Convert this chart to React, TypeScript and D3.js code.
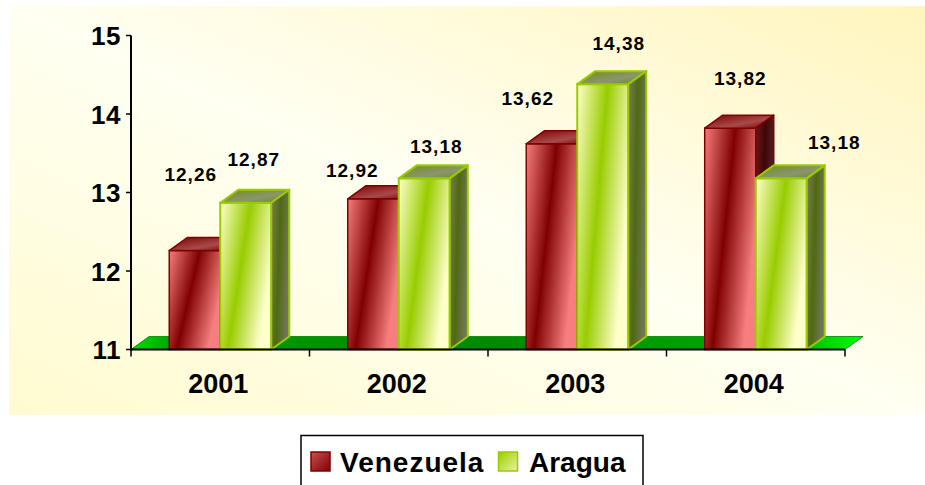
import React from "react";
import * as d3 from "d3";

const years = ["2001", "2002", "2003", "2004"];
const seriesNames = ["Venezuela", "Aragua"];
const venezuela = [12.26, 12.92, 13.62, 13.82];
const aragua = [12.87, 13.18, 14.38, 13.18];
const yTicks = [11, 12, 13, 14, 15];
// manual label nudges (px) like the original's moved data labels
const labelNudgeX = [[-13, -30, -33, 1], [-1, 3, 7, 44]];
const labelNudgeY = [[-49, -1, -18, -22], [-16, -4, -13, -8]];

const W = 925;
const H = 485;
const DX = 18;
const DY = -13;
const FONT = "Arial, 'Liberation Sans', sans-serif";

const fmt = (v: number) => v.toFixed(2).replace(".", ",");

export default function App() {
  const y = d3.scaleLinear().domain([11, 15]).range([349.5, 35.5]);
  const x = d3.scaleBand().domain(years).range([131, 845]).paddingInner(0).paddingOuter(0);
  const inner = d3
    .scaleBand()
    .domain(seriesNames)
    .range([0, x.bandwidth()])
    .paddingInner(0)
    .paddingOuter(0.75);
  const w = inner.bandwidth();
  const y0 = y(11);
  const values = [venezuela, aragua];
  const faces = [
    { front: "url(#vFront)", top: "url(#vTop)", side: "url(#vSide)", stroke: "#800000", sw: 1.5 },
    { front: "url(#aFront)", top: "url(#aTop)", side: "url(#aSide)", stroke: "#99CC00", sw: 2 },
  ];
  const [xl, xr] = x.range();

  const bars: React.ReactNode[] = [];
  const labels: React.ReactNode[] = [];
  years.forEach((yr, i) => {
    seriesNames.forEach((s, si) => {
      const v = values[si][i];
      const bx = (x(yr) as number) + (inner(s) as number);
      const yt = y(v);
      const f = faces[si];
      bars.push(
        <g key={yr + s}>
          <rect x={bx} y={yt} width={w} height={y0 - yt} fill={f.front} stroke={f.stroke} strokeWidth={f.sw} />
          <polygon
            points={`${bx},${yt} ${bx + DX},${yt + DY} ${bx + w + DX},${yt + DY} ${bx + w},${yt}`}
            fill={f.top}
            stroke={f.stroke}
            strokeWidth={f.sw}
            strokeLinejoin="round"
          />
          <polygon
            points={`${bx + w},${yt} ${bx + w + DX},${yt + DY} ${bx + w + DX},${y0 + DY} ${bx + w},${y0}`}
            fill={f.side}
            stroke={f.stroke}
            strokeWidth={f.sw}
            strokeLinejoin="round"
          />
        </g>
      );
      labels.push(
        <text
          key={"l" + yr + s}
          x={bx + w / 2 + DX / 2 + labelNudgeX[si][i]}
          y={yt + DY - 8 + labelNudgeY[si][i]}
          textAnchor="middle"
          fontFamily={FONT}
          fontWeight="bold"
          fontSize={19}
          letterSpacing={1}
          fill="#000"
        >
          {fmt(v)}
        </text>
      );
    });
  });

  return (
    <svg width={W} height={H} style={{ position: "absolute", left: 0, top: 0, display: "block" }}>
      <defs>
        <linearGradient id="bg" x1="1" y1="0" x2="0" y2="1">
          <stop offset="0" stopColor="#FFF5BE" />
          <stop offset="0.5" stopColor="#FFFFF2" />
          <stop offset="1" stopColor="#FFFBD0" />
        </linearGradient>
        <linearGradient id="vFront" x1="0" y1="0" x2="1" y2="0.45">
          <stop offset="0" stopColor="#F67E7E" />
          <stop offset="0.5" stopColor="#800000" />
          <stop offset="1" stopColor="#F67E7E" />
        </linearGradient>
        <linearGradient id="aFront" x1="0" y1="0" x2="1" y2="0.45">
          <stop offset="0" stopColor="#FFFFCC" />
          <stop offset="0.5" stopColor="#99CC00" />
          <stop offset="1" stopColor="#FFFFCC" />
        </linearGradient>
        <linearGradient id="vTop" x1="0" y1="0" x2="1" y2="1">
          <stop offset="0" stopColor="#7A0000" />
          <stop offset="0.6" stopColor="#A84A4A" />
          <stop offset="1" stopColor="#700000" />
        </linearGradient>
        <linearGradient id="aTop" x1="0" y1="0" x2="1" y2="1">
          <stop offset="0" stopColor="#6F9012" />
          <stop offset="0.6" stopColor="#8C9470" />
          <stop offset="1" stopColor="#6B8A12" />
        </linearGradient>
        <linearGradient id="vSide" x1="0" y1="0" x2="1" y2="0.3">
          <stop offset="0" stopColor="#6B1A1A" />
          <stop offset="0.5" stopColor="#3E0606" />
          <stop offset="1" stopColor="#5A2020" />
        </linearGradient>
        <linearGradient id="aSide" x1="0" y1="0" x2="1" y2="0.3">
          <stop offset="0" stopColor="#7B7B5B" />
          <stop offset="0.5" stopColor="#4F6A10" />
          <stop offset="1" stopColor="#707556" />
        </linearGradient>
        <linearGradient id="floor" gradientUnits="userSpaceOnUse" x1={xl} y1="0" x2={xr + DX} y2="0">
          <stop offset="0" stopColor="#00E000" />
          <stop offset="0.06" stopColor="#009C00" />
          <stop offset="0.5" stopColor="#008A00" />
          <stop offset="0.9" stopColor="#00AC00" />
          <stop offset="1" stopColor="#00FF00" />
        </linearGradient>
        <linearGradient id="vLeg" x1="0" y1="0" x2="1" y2="1">
          <stop offset="0" stopColor="#C85050" />
          <stop offset="1" stopColor="#800000" />
        </linearGradient>
        <linearGradient id="aLeg" x1="0" y1="0" x2="1" y2="1">
          <stop offset="0" stopColor="#99CC00" />
          <stop offset="1" stopColor="#E8F5A0" />
        </linearGradient>
      </defs>
      <rect x={0} y={0} width={W} height={H} fill="#fff" />
      <rect x={9} y={6} width={W - 9} height={409} fill="url(#bg)" />

      {/* floor */}
      <polygon
        points={`${xl},${y0} ${xl + DX},${y0 + DY} ${xr + DX},${y0 + DY} ${xr},${y0}`}
        fill="url(#floor)"
        stroke="#008000"
        strokeWidth={0.8}
      />

      {bars}

      {/* axes */}
      <line x1={xl} x2={xl} y1={y(15)} y2={y0 + 1} stroke="#000" strokeWidth={2} />
      <line x1={xl} x2={xr} y1={y0} y2={y0} stroke="#000" strokeWidth={2} />
      {yTicks.map((t) => (
        <g key={t}>
          <line x1={xl - 5} x2={xl} y1={y(t)} y2={y(t)} stroke="#000" strokeWidth={1.5} />
          <text
            x={121}
            y={y(t) + 9.5}
            textAnchor="end"
            fontFamily={FONT}
            fontWeight="bold"
            fontSize={26}
            letterSpacing={0.5}
            fill="#000"
          >
            {t}
          </text>
        </g>
      ))}
      {[...years.map((yr) => x(yr) as number), xr].map((bx, i) => (
        <line key={"xt" + i} x1={bx} x2={bx} y1={y0} y2={y0 + 7} stroke="#000" strokeWidth={1.5} />
      ))}
      {years.map((yr) => (
        <text
          key={"xl" + yr}
          x={(x(yr) as number) + x.bandwidth() / 2 - 2}
          y={393}
          textAnchor="middle"
          fontFamily={FONT}
          fontWeight="bold"
          fontSize={27}
          fill="#000"
        >
          {yr}
        </text>
      ))}

      {labels}

      {/* legend */}
      <rect x={301} y={435.5} width={342} height={60} fill="#fff" stroke="#000" strokeWidth={1.5} />
      <rect x={311} y={452} width={19} height={19} fill="url(#vLeg)" stroke="#800000" strokeWidth={1.5} />
      <text x={340} y={472} fontFamily={FONT} fontWeight="bold" fontSize={28} letterSpacing={1} fill="#000">
        {seriesNames[0]}
      </text>
      <rect x={498.5} y={452} width={19} height={19} fill="url(#aLeg)" stroke="#99CC00" strokeWidth={1.5} />
      <text x={529} y={472} fontFamily={FONT} fontWeight="bold" fontSize={28} fill="#000">
        {seriesNames[1]}
      </text>
    </svg>
  );
}
